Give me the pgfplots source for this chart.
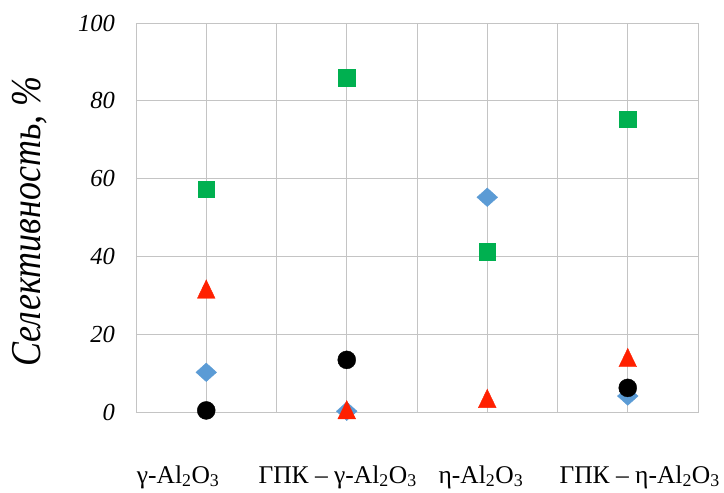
\documentclass[border=0pt]{standalone}
\usepackage{fontspec}
\setmainfont{Liberation Serif}
\usepackage{graphicx}
\usepackage{pgfplots}
\pgfplotsset{compat=1.18}
\definecolor{cgreen}{HTML}{00B050}
\definecolor{cred}{HTML}{FF2000}
\definecolor{cblue}{HTML}{5B9BD5}
\definecolor{cgrid}{HTML}{C4C4C4}
\begin{document}
\begin{tikzpicture}
\useasboundingbox (-136pt,-81pt) rectangle (588pt,412pt);
\begin{axis}[
  at={(0,0)}, anchor=south west,
  scale only axis, width=562pt, height=389pt,
  xmin=0, xmax=8, ymin=0, ymax=100,
  xtick={0.6,2.87,4.91,7.17},
  xticklabels={γ-Al\textsubscript{2}O\textsubscript{3}, ГПК – γ-Al\textsubscript{2}O\textsubscript{3}, η-Al\textsubscript{2}O\textsubscript{3}, ГПК – η-Al\textsubscript{2}O\textsubscript{3}},
  minor xtick={0,1,2,3,4,5,6,7,8},
  ytick={0,20,40,60,80,100},
  xminorgrids, ymajorgrids,
  grid style={draw=cgrid, line width=0.8pt},
  minor grid style={draw=cgrid, line width=0.8pt},
  axis line style={draw=cgrid, line width=0.8pt},
  major tick length=0pt, minor tick length=0pt,
  /pgf/number format/assume math mode=true,
  yticklabel style={font=\fontsize{24.5}{28}\selectfont\itshape, anchor=east, inner sep=0pt, xshift=-21pt},
  xticklabel style={font=\fontsize{25.5}{30}\selectfont, anchor=base, inner sep=0pt, yshift=-71pt},
  ylabel={\scalebox{1}[1.18]{Селективность, \%}},
  ylabel style={font=\fontsize{36}{40}\selectfont\itshape, at={(axis description cs:-0.1708,0.49)}, anchor=base},
  clip=false,
]
\addplot[only marks, mark=square*, mark size=7.3pt, mark options={yscale=0.9, rotate=45, fill=cblue, draw=cblue}] coordinates {(1,10.2) (3,0.2) (5,55.2) (7,4.1)};
\addplot[only marks, mark=square*, mark size=8.2pt, mark options={fill=cgreen, draw=cgreen}] coordinates {(1,57.3) (3,85.9) (5,41.2) (7,75.2)};
\addplot[only marks, mark=triangle*, mark size=10.2pt, mark options={yshift=-3.06pt, yscale=1.2, fill=cred, draw=cred}] coordinates {(1,31.6) (3,0.6) (5,3.5) (7,14.0)};
\addplot[only marks, mark=*, mark size=9pt, mark options={fill=black, draw=black}] coordinates {(1,0.4) (3,13.4) (7,6.2)};
\end{axis}
\end{tikzpicture}
\end{document}
